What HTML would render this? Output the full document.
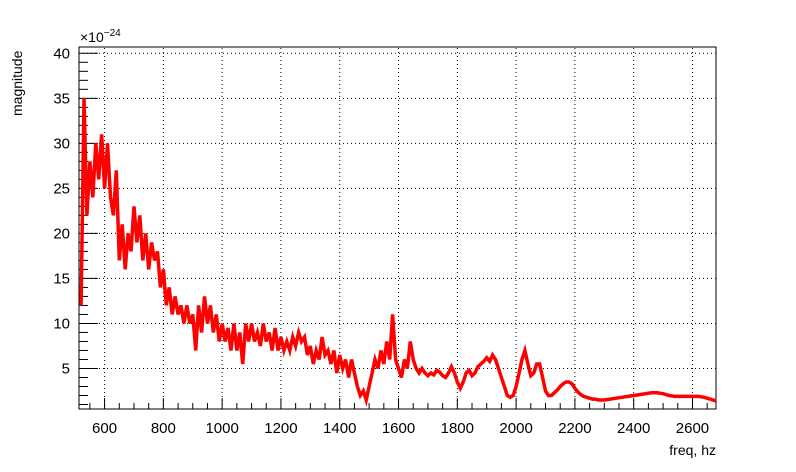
<!DOCTYPE html>
<html><head><meta charset="utf-8"><style>
body{margin:0;background:#fff;}
svg{display:block;font-family:"Liberation Sans",sans-serif;}
</style></head><body>
<svg id="c" width="796" height="472">
<rect width="796" height="472" fill="#fff"/>
<g id="grid"></g><g id="axes"></g><g id="series"></g>
<text x="80" y="42" font-size="14">×10<tspan dy="-6" font-size="10">−24</tspan></text>
<text x="716" y="455" font-size="14" text-anchor="end">freq, hz</text>
<text transform="translate(22,116) rotate(-90)" font-size="14" text-anchor="start">magnitude</text>
</svg>
<script>
const freq=[520,530,540,550,560,570,580,590,600,610,620,630,640,650,660,670,680,690,700,710,720,730,740,750,760,770,780,790,800,810,820,830,840,850,860,870,880,890,900,910,920,930,940,950,960,970,980,990,1000,1010,1020,1030,1040,1050,1060,1070,1080,1090,1100,1110,1120,1130,1140,1150,1160,1170,1180,1190,1200,1210,1220,1230,1240,1250,1260,1270,1280,1290,1300,1310,1320,1330,1340,1350,1360,1370,1380,1390,1400,1410,1420,1430,1440,1450,1460,1470,1480,1490,1500,1510,1520,1530,1540,1550,1560,1570,1580,1590,1600,1610,1620,1630,1640,1650,1660,1670,1680,1690,1700,1710,1720,1730,1740,1750,1760,1770,1780,1790,1800,1810,1820,1830,1840,1850,1860,1870,1880,1890,1900,1910,1920,1930,1940,1950,1960,1970,1980,1990,2000,2010,2020,2030,2040,2050,2060,2070,2080,2090,2100,2110,2120,2130,2140,2150,2160,2170,2180,2190,2200,2210,2220,2230,2240,2250,2260,2270,2280,2290,2300,2320,2340,2360,2380,2400,2420,2440,2460,2480,2500,2520,2540,2560,2580,2600,2620,2640,2660,2680];
const mag=[12,35,22,28,24,30,26,31,25,30,24,22,27,17,21,16,20,18,23,19,22,17,20,16,19,17,18,14,16,12,14,11,13,11,12,10,12,10,11,7,12,9,13,10,12,9,11,8,10,8,9.5,7,10,7,9,5.5,10,8,10,8,9,7.5,10,8,9,7,9.5,7,8.5,7,8,7,8.5,7.5,9,8,8.5,6.5,7.5,5.5,7,6,8.5,6.5,7,5.5,7,4.5,6.5,5,6,4,6,4.5,3,2,2.5,1.5,3,4.5,6,5,7,5.5,8,6,11,6,5,4,6,5,8,6,5,4.5,5,4.5,4.2,4.5,4.3,4.8,4.6,4.2,4,4.5,5.2,4.5,3.5,2.8,3.5,4.5,4.8,4.2,4.5,5.2,5.5,5.8,6.2,5.8,6.5,6,5,4,3,2,1.8,2,3,4.5,6,7,5.5,4.2,4.5,5.5,5.5,4,2.5,2,2,2.3,2.6,3,3.3,3.5,3.5,3.3,2.8,2.4,2.1,1.9,1.8,1.7,1.6,1.6,1.5,1.5,1.5,1.6,1.7,1.8,1.9,2,2.1,2.2,2.3,2.3,2.2,2,1.9,1.9,1.9,1.9,1.9,1.8,1.6,1.4];
const xTicks=[600,800,1000,1200,1400,1600,1800,2000,2200,2400,2600];
const yTicks=[5,10,15,20,25,30,35,40];
const X0=79,X1=716,Y0=409,Y1=47,XMIN=513,XMAX=2680,YMIN=0.5,YMAX=40.7;
const sx=v=>X0+(v-XMIN)/(XMAX-XMIN)*(X1-X0);
const sy=v=>Y0-(v-YMIN)/(YMAX-YMIN)*(Y0-Y1);
const NS='http://www.w3.org/2000/svg';
function mk(t,a,p){const e=document.createElementNS(NS,t);for(const k in a)e.setAttribute(k,a[k]);p.appendChild(e);return e;}
const grid=document.getElementById('grid'),axes=document.getElementById('axes'),ser=document.getElementById('series');
xTicks.forEach(v=>{const x=sx(v);
 const g=mk('line',{x1:x,x2:x,y1:Y0,y2:Y1,stroke:'#000','stroke-dasharray':'1,3','stroke-width':1},grid);
 
 
 mk('line',{x1:x,x2:x,y1:Y0,y2:Y0-11,stroke:'#000'},axes);
 const t=mk('text',{x:x,y:Y0+24,'font-size':15,'text-anchor':'middle'},axes);t.textContent=v;
 
 
});
for(let v=550;v<=2650;v+=50){if(v%200)mk('line',{x1:sx(v),x2:sx(v),y1:Y0,y2:Y0-6,stroke:'#000'},axes);}
yTicks.forEach(v=>{const y=sy(v);
 const g=mk('line',{x1:X0,x2:X1,y1:y,y2:y,stroke:'#000','stroke-dasharray':'1,3','stroke-width':1},grid);
 
 
 mk('line',{x1:X0,x2:X0+19,y1:y,y2:y,stroke:'#000'},axes);
 const t=mk('text',{x:X0-9,y:y+5,'font-size':15,'text-anchor':'end'},axes);t.textContent=v;
 
 
});
for(let v=1;v<=40;v++){if(v%5)mk('line',{x1:X0,x2:X0+9,y1:sy(v),y2:sy(v),stroke:'#000'},axes);}
const fr=mk('rect',{x:X0,y:Y1,width:X1-X0,height:Y0-Y1,fill:'none',stroke:'#000'},axes);


const pts=freq.map((f,i)=>sx(f).toFixed(1)+','+sy(mag[i]).toFixed(1)).join(' ');
const pl=mk('polyline',{points:pts,fill:'none',stroke:'#ff0000','stroke-width':3.5,'stroke-linejoin':'miter'},ser);


</script>
</body></html>
